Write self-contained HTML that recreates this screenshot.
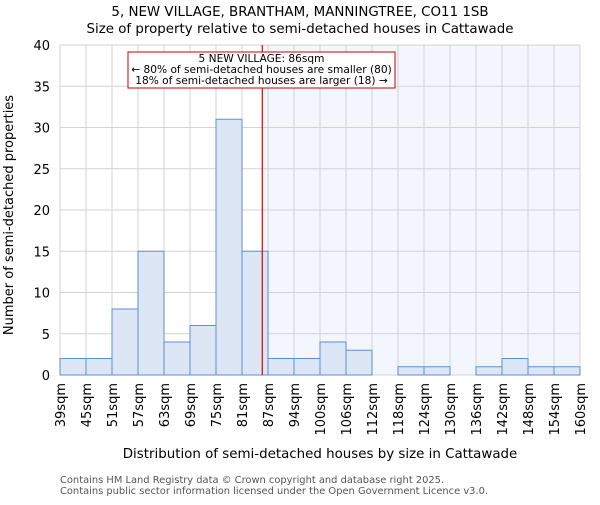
<!DOCTYPE html>
<html><head><meta charset="utf-8"><style>body{margin:0;background:#fff}svg{font-family:"DejaVu Sans","Liberation Sans",sans-serif}</style></head>
<body>
<svg id="c" width="600" height="500" viewBox="0 0 600 500">
<text x="300" y="16" text-anchor="middle" font-size="13.4">5, NEW VILLAGE, BRANTHAM, MANNINGTREE, CO11 1SB</text>
<text x="300" y="33" text-anchor="middle" font-size="13.4">Size of property relative to semi-detached houses in Cattawade</text>
<g id="plot"></g>
<text x="320" y="458" text-anchor="middle" font-size="13.4">Distribution of semi-detached houses by size in Cattawade</text>
<text transform="translate(13,215) rotate(-90)" text-anchor="middle" font-size="13">Number of semi-detached properties</text>
<text x="60" y="483" font-size="9.9" fill="#555">Contains HM Land Registry data © Crown copyright and database right 2025.</text>
<text x="60" y="494" font-size="9.9" fill="#555">Contains public sector information licensed under the Open Government Licence v3.0.</text>
</svg>
<script>
const categories=["39sqm","45sqm","51sqm","57sqm","63sqm","69sqm","75sqm","81sqm","87sqm","94sqm","100sqm","106sqm","112sqm","118sqm","124sqm","130sqm","136sqm","142sqm","148sqm","154sqm","160sqm"];
const counts=[2,2,8,15,4,6,31,15,2,2,4,3,0,1,1,0,1,2,1,1];
const yTicks=[0,5,10,15,20,25,30,35,40];
const propertyPos=7.78;
const NS="http://www.w3.org/2000/svg";
const L=60,R=580,T=45,B=375,yMax=40;
const n=counts.length,bw=(R-L)/n;
const xs=i=>L+i*bw, ys=v=>B-v/yMax*(B-T);
const g=document.getElementById('plot');
function mk(t,a,p){const e=document.createElementNS(NS,t);for(const k in a)e.setAttribute(k,a[k]);(p||g).appendChild(e);return e;}
const px=xs(propertyPos);
let sh=mk('rect',{x:px,y:T,width:R-px,height:B-T,fill:'#f3f6fd'});


yTicks.forEach(v=>{let l=mk('line',{x1:L,x2:R,y1:ys(v),y2:ys(v),stroke:'#d3d3d3'});


let t=mk('text',{x:L-10,y:ys(v)+5,'text-anchor':'end','font-size':'13'});t.textContent=v;

});
categories.forEach((c,i)=>{let l=mk('line',{x1:xs(i),x2:xs(i),y1:T,y2:B,stroke:'#d3d3d3'});


let t=mk('text',{transform:`translate(${xs(i)+5},383) rotate(-90)`,'text-anchor':'end','font-size':'13'});t.textContent=c;

});
counts.forEach((v,i)=>{if(!v)return;let r=mk('rect',{x:xs(i),y:ys(v),width:bw,height:B-ys(v),fill:'#dce6f5',stroke:'#5b8fd6','stroke-width':1});

});
let rl=mk('line',{x1:px,x2:px,y1:T,y2:B,stroke:'#dd0000','stroke-width':1.2});


let box=mk('rect',{x:128,y:52,width:267,height:36,fill:'#fff',stroke:'#cc0000'});


["5 NEW VILLAGE: 86sqm","← 80% of semi-detached houses are smaller (80)","18% of semi-detached houses are larger (18) →"].forEach((s,k)=>{let t=mk('text',{x:261.5,y:62+k*11,'text-anchor':'middle','font-size':'10.6'});t.textContent=s;

});
</script>
</body></html>
